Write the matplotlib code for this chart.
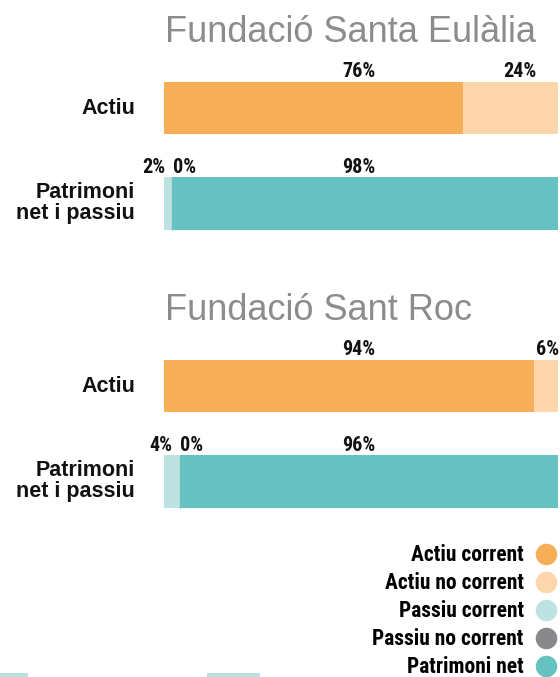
import matplotlib.pyplot as plt
from matplotlib.lines import Line2D
from matplotlib.patches import Rectangle

# data
foundations = ["Fundació Santa Eulàlia", "Fundació Sant Roc"]
rows = ["Actiu", "Patrimoni\nnet i passiu"]
actiu_corrent = [76, 94]
actiu_no_corrent = [24, 6]
passiu_corrent = [2, 4]
passiu_no_corrent = [0, 0]
patrimoni_net = [98, 96]

legend_labels = ["Actiu corrent", "Actiu no corrent", "Passiu corrent",
                 "Passiu no corrent", "Patrimoni net"]
colors = ["#F7AE58", "#FDD6AB", "#BEE2E2", "#87878C", "#66C1C1"]

W, H = 560, 677
fig = plt.figure(figsize=(W / 100, H / 100), dpi=100)

narrow = ["Roboto Condensed", "DejaVu Sans"]
pct_kw = dict(fontsize=14.5, fontweight="bold", family=narrow, color="#111111")


def px_axes(x0, y0, x1, y1):
    return fig.add_axes([x0 / W, 1 - y1 / H, (x1 - x0) / W, (y1 - y0) / H])


panel_tops = [60.5, 338.5]
bar_h = 0.55

for i, name in enumerate(foundations):
    top = panel_tops[i]
    ax = px_axes(164, top, 558, top + 190.5)
    ax.set_xlim(0, 100)
    ax.set_ylim(1.5, -0.5)
    ax.axis("off")

    # Actiu row
    ac, anc = actiu_corrent[i], actiu_no_corrent[i]
    ax.barh(0, ac, height=bar_h, color=colors[0], lw=0)
    ax.barh(0, anc, left=ac, height=bar_h, color=colors[1], lw=0)

    # Patrimoni net i passiu row
    pc, pnc, pn = passiu_corrent[i], passiu_no_corrent[i], patrimoni_net[i]
    ax.barh(1, pc, height=bar_h, color=colors[2], lw=0)
    ax.barh(1, pnc, left=pc, height=bar_h, color=colors[3],
            edgecolor=colors[3], lw=0.9)
    ax.barh(1, pn, left=pc + pnc, height=bar_h, color=colors[4], lw=0)

    def lab(x, row, val, ha="center", dx=0):
        ax.annotate(f"{val}%", xy=(x, row - bar_h / 2), xytext=(dx, 3.3),
                    textcoords="offset points", ha=ha, va="baseline", **pct_kw)

    lab(50, 0, ac, dx=-1.5)
    lab(min(ac + anc / 2 + 2.3, 97.3), 0, anc)  # keep inside the right edge
    lab(pc, 1, pc, ha="right", dx=-5)
    lab(pc + pnc, 1, pnc, ha="left", dx=0.5)
    lab(50, 1, pn, dx=-1.5)

    for r, text in enumerate(rows):
        ax.text(-29 / 394 * 100, r, text, ha="right", va="center",
                fontsize=15.5, fontweight="bold", family="Liberation Sans",
                linespacing=1.0, color="#111111")

    fig.text(165 / W, 1 - (top - 18.5) / H, name, ha="left", va="baseline",
             fontsize=26, family="Liberation Sans", color="#8C8C8C")

handles = [Line2D([], [], marker="o", ls="", markersize=15.5, color=c,
                  markeredgewidth=0) for c in colors]
fig.legend(handles, legend_labels, loc="upper right",
           bbox_to_anchor=(1 + 6 / W, 1 - 537 / H), frameon=False,
           markerfirst=False,
           prop=dict(family=narrow, weight="bold", size=15.5),
           labelspacing=0.28, handletextpad=0.46, handlelength=1.17,
           borderpad=0.335, borderaxespad=0)

# faint strips at the bottom edge
fig.add_artist(Rectangle((0, 0), 28 / W, 4 / H, transform=fig.transFigure,
                         color="#B8E0E0", lw=0))
fig.add_artist(Rectangle((207 / W, 0), 53 / W, 4 / H, transform=fig.transFigure,
                         color="#B8E0E0", lw=0))

fig.savefig("out.png", dpi=100)
